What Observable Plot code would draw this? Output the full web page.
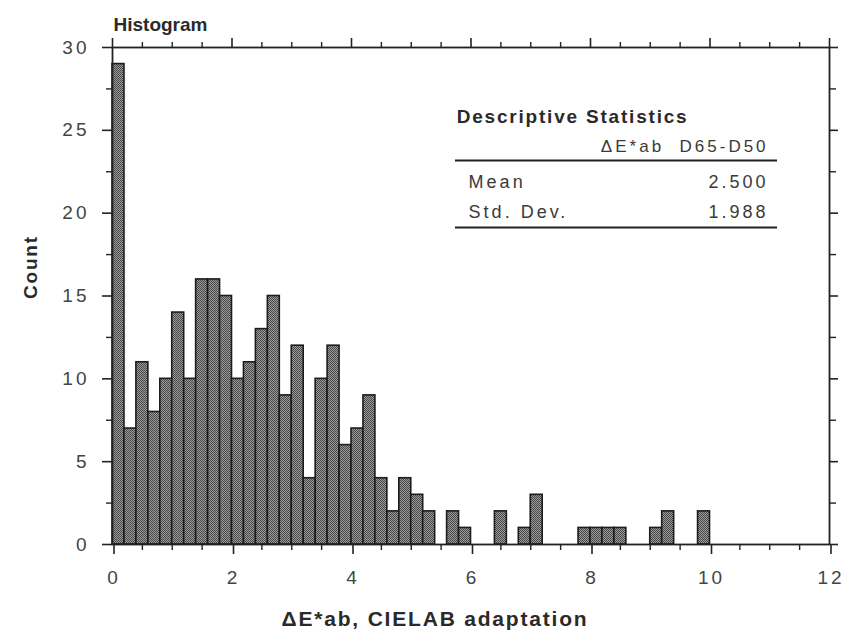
<!DOCTYPE html>
<html>
<head>
<meta charset="utf-8">
<script src="https://cdn.jsdelivr.net/npm/d3@7"></script>
<script src="https://cdn.jsdelivr.net/npm/@observablehq/plot@0.6"></script>
<style>
  html, body { margin: 0; padding: 0; background: #fff; }
  #chart { width: 851px; height: 643px; }
  .spaced text { letter-spacing: 3px; }
  .bspaced text { letter-spacing: 1.8px; }
</style>
</head>
<body>
<div id="chart"></div>
<script>
// ---- data ----
const binStart = [0, 0.2, 0.4, 0.6, 0.8, 1.0, 1.2, 1.4, 1.6, 1.8,
                  2.0, 2.2, 2.4, 2.6, 2.8, 3.0, 3.2, 3.4, 3.6, 3.8,
                  4.0, 4.2, 4.4, 4.6, 4.8, 5.0, 5.2, 5.4, 5.6, 5.8,
                  6.0, 6.2, 6.4, 6.6, 6.8, 7.0, 7.2, 7.4, 7.6, 7.8,
                  8.0, 8.2, 8.4, 8.6, 8.8, 9.0, 9.2, 9.4, 9.6, 9.8];
const counts   = [29, 7, 11, 8, 10, 14, 10, 16, 16, 15,
                  10, 11, 13, 15, 9, 12, 4, 10, 12, 6,
                  7, 9, 4, 2, 4, 3, 2, 0, 2, 1,
                  0, 0, 2, 0, 1, 3, 0, 0, 0, 1,
                  1, 1, 1, 0, 0, 1, 2, 0, 0, 2];
const binWidth = 0.2;

const xMajorTicks = [0, 2, 4, 6, 8, 10, 12];
const xMinorTicks = [0.5, 1, 1.5, 2.5, 3, 3.5, 4.5, 5, 5.5, 6.5, 7, 7.5, 8.5, 9, 9.5, 10.5, 11, 11.5];
const yMajorTicks = [0, 5, 10, 15, 20, 25, 30];
const yMinorTicks = [2.5, 7.5, 12.5, 17.5, 22.5, 27.5];

const chartTitle = "Histogram";
const xTitle = "\u0394E*ab, CIELAB adaptation";
const yTitle = "Count";

const statsTitle = "Descriptive Statistics";
const statsHeader = "\u0394E*ab  D65-D50";
const statsNames = ["Mean", "Std. Dev."];
const statsValues = ["2.500", "1.988"];

// ---- build ----
const bins = binStart.map((s, i) => ({x1: s, x2: s + binWidth, count: counts[i]})).filter(d => d.count > 0);

const font = "'Liberation Sans', Arial, Helvetica, sans-serif";
const ink = "#222";
const textInk = "#3a3a3a";

// table annotation anchor positions (data units)
const tLeft = 5.74, tRight = 11.13, tTextLeft = 5.96, tTextRight = 10.93;
const tRows = [21.85, 20.04];

const plot = Plot.plot({
  width: 851,
  height: 643,
  marginLeft: 112,
  marginRight: 22,
  marginTop: 47,
  marginBottom: 99,
  style: {fontFamily: font, fontSize: "18px", color: textInk, background: "#fff"},
  x: {domain: [0, 12]},
  y: {domain: [0, 30]},
  marks: [
    Plot.rectY(bins, {x1: "x1", x2: "x2", y: "count", fill: "url(#stipple)", stroke: "#1c1c1c", strokeWidth: 1.6}),
    Plot.frame({stroke: ink, strokeWidth: 1.8}),
    // bottom axis
    Plot.axisX({anchor: "bottom", ticks: xMajorTicks, tickSize: 10, tickPadding: 16, tickFormat: d => String(d), label: null, fontSize: 19, stroke: ink, strokeWidth: 1.6, className: "spaced", dx: 1.5, fill: "#444"}),
    Plot.axisX({anchor: "bottom", ticks: xMinorTicks, tickSize: 6, tickFormat: () => "", label: null, stroke: ink, strokeWidth: 1.4}),
    // top axis
    Plot.axisX({anchor: "top", ticks: xMajorTicks, tickSize: 10, tickFormat: () => "", label: null, stroke: ink, strokeWidth: 1.6}),
    Plot.axisX({anchor: "top", ticks: xMinorTicks, tickSize: 6, tickFormat: () => "", label: null, stroke: ink, strokeWidth: 1.4}),
    // left axis
    Plot.axisY({anchor: "left", ticks: yMajorTicks, tickSize: 10, tickPadding: 13, tickFormat: d => String(d), label: null, fontSize: 19, stroke: ink, strokeWidth: 1.6, className: "spaced", fill: "#444"}),
    Plot.axisY({anchor: "left", ticks: yMinorTicks, tickSize: 6, tickFormat: () => "", label: null, stroke: ink, strokeWidth: 1.4}),
    // right axis
    Plot.axisY({anchor: "right", ticks: yMajorTicks, tickSize: 8, tickFormat: () => "", label: null, stroke: ink, strokeWidth: 1.6}),
    Plot.axisY({anchor: "right", ticks: yMinorTicks, tickSize: 6, tickFormat: () => "", label: null, stroke: ink, strokeWidth: 1.4}),
    // titles
    Plot.text([chartTitle], {frameAnchor: "top-left", dx: 1, dy: -30, textAnchor: "start", fontWeight: "bold", fontSize: 19, fill: "#2a2a2a"}),
    Plot.text([yTitle], {frameAnchor: "left", dx: -82, dy: 3, rotate: -90, fontWeight: "bold", fontSize: 19, fill: "#2a2a2a", className: "bspaced"}),
    Plot.text([xTitle], {frameAnchor: "bottom", dx: -36, dy: 81, fontWeight: "bold", fontSize: 21, fill: "#2a2a2a", className: "bspaced"}),
    // descriptive statistics table
    Plot.text([statsTitle], {x: tLeft + 0.02, y: 25.83, textAnchor: "start", fontWeight: "bold", fontSize: 19, fill: "#2a2a2a", className: "bspaced"}),
    Plot.text([statsHeader], {x: tTextRight, y: 24.02, dx: 3, textAnchor: "end", fontSize: 17, fill: textInk, className: "spaced"}),
    Plot.ruleY([23.18], {x1: tLeft, x2: tRight, stroke: ink, strokeWidth: 2}),
    Plot.text(statsNames, {x: tTextLeft, y: (d, i) => tRows[i], textAnchor: "start", fontSize: 18, fill: textInk, className: "spaced"}),
    Plot.text(statsValues, {x: tTextRight, y: (d, i) => tRows[i], dx: 3, textAnchor: "end", fontSize: 18, fill: textInk, className: "spaced"}),
    Plot.ruleY([19.13], {x1: tLeft, x2: tRight, stroke: ink, strokeWidth: 2})
  ]
});

// stipple pattern used as bar fill
const defs = d3.select(plot).insert("defs", ":first-child");
const pat = defs.append("pattern").attr("id", "stipple").attr("patternUnits", "userSpaceOnUse").attr("width", 2).attr("height", 2);
pat.append("rect").attr("width", 2).attr("height", 2).attr("fill", "#9c9c9c");
pat.append("rect").attr("width", 1).attr("height", 1).attr("fill", "#474747");
pat.append("rect").attr("x", 1).attr("y", 1).attr("width", 1).attr("height", 1).attr("fill", "#474747");

document.getElementById("chart").appendChild(plot);
</script>
</body>
</html>
